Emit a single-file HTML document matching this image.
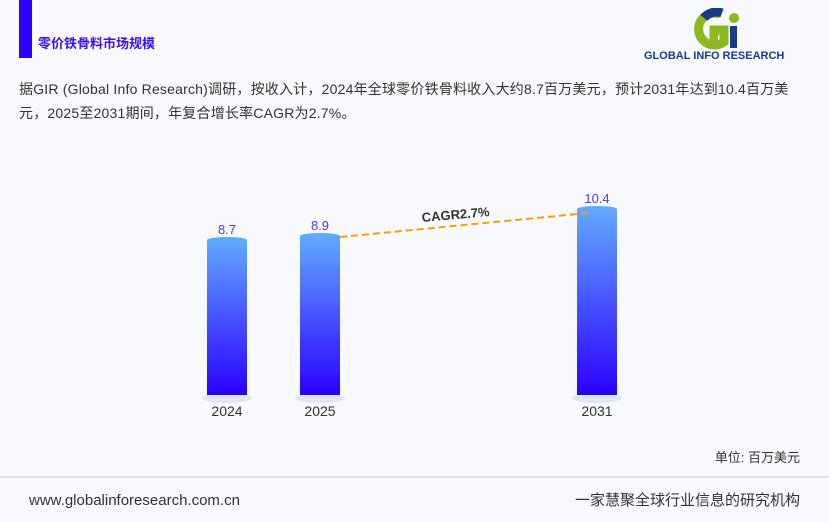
<!DOCTYPE html>
<html><head><meta charset="utf-8"><style>
body{margin:0;width:829px;height:522px;background:#f8f9fd;font-family:"Liberation Sans","Noto Sans CJK SC",sans-serif;position:relative;overflow:hidden}
.a{position:absolute}
</style></head><body>
<div class="a" style="left:19px;top:0;width:13px;height:58px;background:#2a00ff"></div>
<div class="a" style="left:38px;top:33px;font-size:13px;font-weight:bold;color:#3a10f0">零价铁骨料市场规模</div>
<svg class="a" style="left:690px;top:8px" width="60" height="42"><path d="M30 6 A16 16 0 1 0 34 34 L34 22 L24 22 L24 28 L28 28" fill="none" stroke="#8cb820" stroke-width="9"/><rect x="40" y="18" width="7" height="22" fill="#1a3a8a"/><circle cx="44" cy="10" r="5" fill="#8cb820"/><path d="M14 10 A16 16 0 0 1 32 5" stroke="#1a3a8a" stroke-width="9" fill="none"/></svg>
<div class="a" style="left:644px;top:50px;font-size:11px;font-weight:bold;color:#1a3a8a">GLOBAL INFO RESEARCH</div>
<div class="a" style="left:19px;top:77px;width:775px;font-size:14px;letter-spacing:0.2px;line-height:24px;color:#333">据GIR (Global Info Research)调研，按收入计，2024年全球零价铁骨料收入大约8.7百万美元，预计2031年达到10.4百万美元，2025至2031期间，年复合增长率CAGR为2.7%。</div>
<svg class="a" style="left:0;top:0" width="829" height="522">
<defs><linearGradient id="g" x1="0" y1="0" x2="0" y2="1"><stop offset="0" stop-color="#62a8ff"/><stop offset="1" stop-color="#2a00ff"/></linearGradient></defs>
<ellipse cx="227" cy="398" rx="25" ry="5" fill="#dde6f5"/><ellipse cx="320" cy="398" rx="25" ry="5" fill="#dde6f5"/><ellipse cx="597" cy="398" rx="25" ry="5" fill="#dde6f5"/>
<rect x="207" y="240" width="40" height="155" fill="url(#g)"/><ellipse cx="227" cy="240" rx="20" ry="3" fill="#62a8ff"/>
<rect x="300" y="236" width="40" height="159" fill="url(#g)"/><ellipse cx="320" cy="236" rx="20" ry="3" fill="#62a8ff"/>
<rect x="577" y="209" width="40" height="186" fill="url(#g)"/><ellipse cx="597" cy="209" rx="20" ry="3" fill="#62a8ff"/>
<line x1="340" y1="237" x2="588" y2="213" stroke="#f5a000" stroke-width="2" stroke-dasharray="7,4"/>
<g font-size="13" fill="#4a3cf0" text-anchor="middle"><text x="227" y="234">8.7</text><text x="320" y="230">8.9</text><text x="597" y="203">10.4</text></g>
<text x="456" y="219" font-size="13" font-weight="bold" fill="#333" text-anchor="middle" transform="rotate(-5 456 219)">CAGR2.7%</text>
<g font-size="14" fill="#333" text-anchor="middle"><text x="227" y="416">2024</text><text x="320" y="416">2025</text><text x="597" y="416">2031</text></g>
<text x="800" y="462" font-size="13" fill="#333" text-anchor="end">单位: 百万美元</text>
<line x1="0" y1="477" x2="829" y2="477" stroke="#ccc"/>
<text x="29" y="505" font-size="15" fill="#333">www.globalinforesearch.com.cn</text>
<text x="800" y="505" font-size="15" fill="#333" text-anchor="end">一家慧聚全球行业信息的研究机构</text>
</svg>
</body></html>
